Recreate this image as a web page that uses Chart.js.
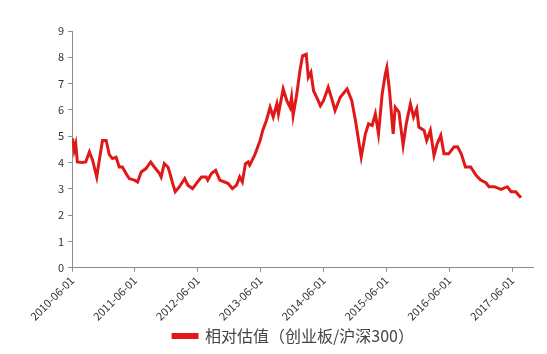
<!DOCTYPE html>
<html>
<head>
<meta charset="utf-8">
<script src="https://cdn.jsdelivr.net/npm/chart.js@4.4.1/dist/chart.umd.min.js"></script>
<style>
    html, body { margin: 0; padding: 0; background: #fff; }
    #wrap { width: 547px; height: 354px; }
</style>
</head>
<body>
<div id="wrap"><canvas id="valuationChart" width="547" height="354"></canvas></div>
<script>
// months since 2010-06-01 for each reading
const monthOffsets = [
    0.1, 0.4, 0.7, 1.0, 1.9, 2.6, 3.3, 3.9, 4.7, 5.2, 5.8, 6.5, 7.1, 7.7, 8.4, 9.0,
    9.6, 10.3, 10.9, 11.9, 12.5, 13.2, 14.1, 15.0, 15.7, 16.7, 17.0, 17.6, 18.3, 18.7,
    19.2, 19.7, 20.5, 21.5, 22.1, 23.0, 23.7, 24.7, 25.6, 25.9, 26.6, 27.4, 28.2, 29.1,
    29.8, 30.6, 31.4, 32.0, 32.5, 33.1, 33.6, 33.9, 34.9, 35.9, 36.4, 37.1, 37.8, 38.4,
    39.1, 39.4, 40.3, 41.0, 41.6, 41.9, 42.2, 42.9, 43.5, 44.0, 44.7, 45.1, 45.6, 46.1,
    46.7, 47.4, 48.0, 48.9, 49.6, 50.2, 51.2, 52.5, 53.4, 54.1, 54.7, 55.2, 56.0, 56.6,
    57.3, 57.9, 58.5, 59.2, 59.8, 60.1, 60.6, 61.3, 61.7, 62.4, 63.2, 63.8, 64.6, 65.2,
    65.8, 66.2, 67.2, 67.7, 68.4, 69.1, 69.7, 70.4, 71.0, 71.9, 72.9, 73.6, 74.3, 75.1,
    76.1, 77.1, 78.0, 79.0, 79.6, 80.6, 81.9, 83.1, 83.8, 84.7, 85.7
];

// relative valuation ChiNext / CSI300
const relativeValues = [
    4.92, 4.46, 4.70, 4.02, 4.00, 4.02, 4.40, 4.10, 3.45, 4.10, 4.84, 4.84, 4.30, 4.15, 4.20, 3.83,
    3.83, 3.58, 3.39, 3.33, 3.26, 3.64, 3.77, 4.02, 3.83, 3.58, 3.45, 3.96, 3.83, 3.58,
    3.20, 2.89, 3.08, 3.39, 3.14, 3.01, 3.20, 3.45, 3.45, 3.33, 3.58, 3.70, 3.33, 3.26,
    3.20, 3.01, 3.14, 3.45, 3.26, 3.96, 4.02, 3.90, 4.30, 4.84, 5.22, 5.60, 6.10, 5.73,
    6.23, 5.85, 6.80, 6.35, 6.10, 6.48, 5.79, 6.60, 7.49, 8.06, 8.12, 7.24, 7.43, 6.73,
    6.48, 6.16, 6.35, 6.86, 6.41, 5.98, 6.48, 6.80, 6.35, 5.60, 4.84, 4.21, 5.09, 5.47,
    5.41, 5.85, 5.09, 6.60, 7.36, 7.61, 6.73, 5.09, 6.10, 5.92, 4.65, 5.47, 6.23, 5.73,
    6.04, 5.35, 5.22, 4.84, 5.22, 4.27, 4.71, 5.03, 4.33, 4.33, 4.59, 4.60, 4.33, 3.83,
    3.83, 3.52, 3.33, 3.23, 3.08, 3.08, 2.98, 3.08, 2.89, 2.89, 2.66
];

const xTickLabels = ['2010-06-01', '2011-06-01', '2012-06-01', '2013-06-01',
                     '2014-06-01', '2015-06-01', '2016-06-01', '2017-06-01'];
const seriesName = '相对估值（创业板/沪深300）';

const FONT = '"Noto Sans CJK SC", "Noto Sans", sans-serif';
const LINE_RED = '#e01818';
const AXIS_GREY = '#8c8c8c';

const points = monthOffsets.map((m, i) => ({ x: m, y: relativeValues[i] }));

new Chart(document.getElementById('valuationChart'), {
    type: 'line',
    data: {
        datasets: [{
            label: seriesName,
            data: points,
            borderColor: LINE_RED,
            backgroundColor: '#b8302c',
            borderWidth: 3,
            pointRadius: 0,
            tension: 0
        }]
    },
    options: {
        responsive: false,
        animation: false,
        layout: { padding: { left: 54, right: 14, top: 31, bottom: 0 } },
        plugins: {
            tooltip: { enabled: false },
            legend: {
                position: 'bottom',
                labels: {
                    boxWidth: 24,
                    boxHeight: 3,
                    color: '#444',
                    padding: 3,
                    font: { family: FONT, size: 16 }
                }
            }
        },
        scales: {
            x: {
                type: 'linear',
                min: 0,
                max: 88,
                afterBuildTicks: (axis) => {
                    axis.ticks = axis.ticks.filter(t => t.value % 12 === 0);
                },
                ticks: {
                    stepSize: 12,
                    minRotation: 45,
                    maxRotation: 45,
                    color: '#333',
                    padding: 2,
                    font: { family: FONT, size: 11 },
                    callback: (v) => xTickLabels[v / 12] || ''
                },
                grid: { drawOnChartArea: false, tickLength: 4, color: AXIS_GREY },
                border: { color: AXIS_GREY, width: 1 }
            },
            y: {
                min: 0,
                max: 9,
                ticks: {
                    stepSize: 1,
                    color: '#333',
                    padding: 4,
                    font: { family: FONT, size: 11 }
                },
                grid: { drawOnChartArea: false, tickLength: 4, color: AXIS_GREY },
                border: { color: AXIS_GREY, width: 1 }
            }
        }
    }
});
</script>
</body>
</html>
